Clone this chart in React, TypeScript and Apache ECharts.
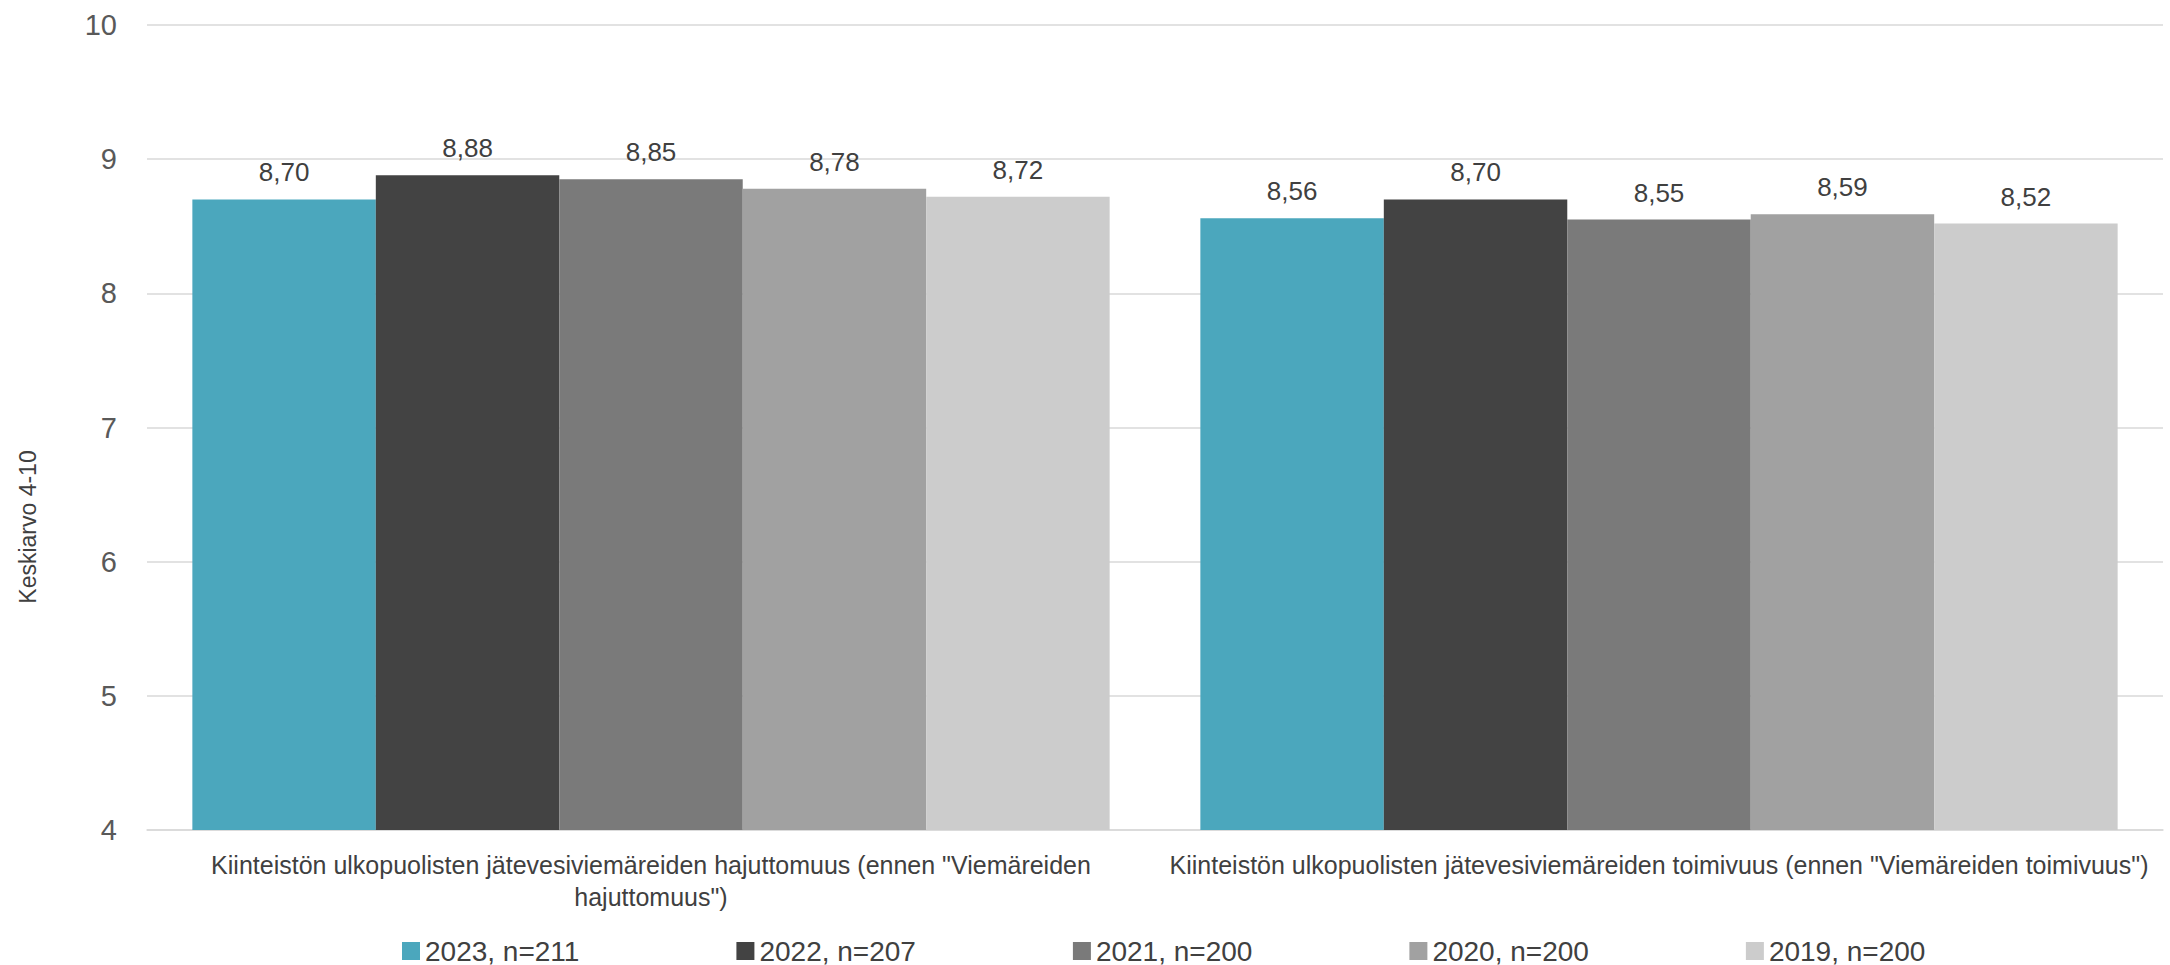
import React, { useEffect, useRef } from "react";
import * as echarts from "echarts";

const categories = [
  'Kiinteistön ulkopuolisten jätevesiviemäreiden hajuttomuus (ennen "Viemäreiden\nhajuttomuus")',
  'Kiinteistön ulkopuolisten jätevesiviemäreiden toimivuus (ennen "Viemäreiden toimivuus")',
];
const seriesNames = ["2023, n=211", "2022, n=207", "2021, n=200", "2020, n=200", "2019, n=200"];
const values2023 = [8.7, 8.56];
const values2022 = [8.88, 8.7];
const values2021 = [8.85, 8.55];
const values2020 = [8.78, 8.59];
const values2019 = [8.72, 8.52];
const seriesValues = [values2023, values2022, values2021, values2020, values2019];
const colors = ["#4BA7BD", "#434343", "#7A7A7A", "#A1A1A1", "#CCCCCC"];
const yAxisTitle = "Keskiarvo 4-10";

const FONT = "'Liberation Sans', Arial, sans-serif";
const TEXT = "#404040";

export default function App() {
  const ref = useRef<HTMLDivElement>(null);
  useEffect(() => {
    if (!ref.current) return;
    const chart = echarts.init(ref.current, undefined, { renderer: "svg" });
    chart.setOption({
      animation: false,
      color: colors,
      textStyle: { fontFamily: FONT },
      grid: { left: 147, right: 7, top: 25, bottom: 135, containLabel: false },
      legend: {
        left: 402,
        top: 937,
        padding: 0,
        itemWidth: 18,
        itemHeight: 18,
        itemGap: 157,
        icon: "rect",
        textStyle: { fontSize: 28, color: TEXT, fontFamily: FONT },
        data: seriesNames,
      },
      xAxis: {
        type: "category",
        data: categories,
        axisLine: { show: true, lineStyle: { color: "#D9D9D9", width: 1.5 } },
        axisTick: { show: false },
        axisLabel: {
          interval: 0,
          fontSize: 25,
          color: TEXT,
          margin: 19,
          lineHeight: 32,
          fontFamily: FONT,
        },
      },
      yAxis: {
        type: "value",
        min: 4,
        max: 10,
        interval: 1,
        axisLine: { show: false },
        axisTick: { show: false },
        splitLine: { lineStyle: { color: "#D9D9D9", width: 1.5 } },
        axisLabel: { fontSize: 29, color: "#595959", margin: 30, fontFamily: FONT },
      },
      graphic: [
        {
          type: "text",
          x: 28,
          y: 527,
          rotation: Math.PI / 2,
          style: {
            text: yAxisTitle,
            fontSize: 23,
            fill: TEXT,
            fontFamily: FONT,
            align: "center",
            verticalAlign: "middle",
          },
        },
      ],
      series: seriesNames.map((name, i) => ({
        name,
        type: "bar",
        data: seriesValues[i],
        barGap: "0%",
        barCategoryGap: "9%",
        itemStyle: { color: colors[i] },
        label: {
          show: true,
          position: "top",
          distance: 14,
          fontSize: 26,
          color: TEXT,
          fontFamily: FONT,
          formatter: (p: any) => p.value.toFixed(2).replace(".", ","),
        },
      })),
    });
    return () => chart.dispose();
  }, []);
  return (
    <div
      ref={ref}
      style={{ position: "fixed", left: 0, top: 0, width: 2170, height: 965, background: "#fff" }}
    />
  );
}
